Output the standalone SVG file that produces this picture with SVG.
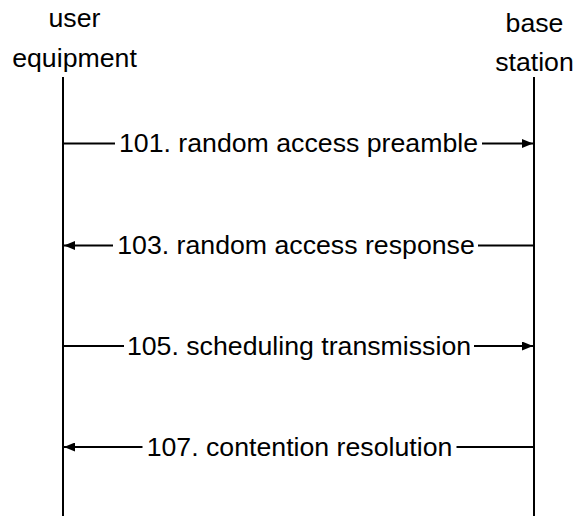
<svg xmlns="http://www.w3.org/2000/svg" width="575" height="516" viewBox="0 0 575 516">
  <style>
    .lbl { font-family: "Liberation Sans", Arial, sans-serif; font-size: 26.7px; fill: #000; text-anchor: middle; }
    .life { stroke: #000; stroke-width: 2; fill: none; }
    .msg { stroke: #000; stroke-width: 2; fill: none; }
  </style>
  <defs>
    <marker id="head" viewBox="0 0 11 9" refX="11" refY="4.5" markerWidth="11" markerHeight="9" markerUnits="userSpaceOnUse" orient="auto">
      <path d="M0,0 L11,4.5 L0,9 Z" fill="#000"/>
    </marker>
  </defs>

  <!-- participants -->
  <g id="user-equipment">
    <text class="lbl" x="74.5" y="27">user</text>
    <text class="lbl" x="74.5" y="67">equipment</text>
    <line class="life" x1="63" y1="77" x2="63" y2="516"/>
  </g>
  <g id="base-station">
    <text class="lbl" x="534.5" y="32">base</text>
    <text class="lbl" x="534.5" y="71">station</text>
    <line class="life" x1="534" y1="77" x2="534" y2="516"/>
  </g>

  <!-- messages -->
  <g id="connectors">
    <line class="msg" x1="63" y1="143.5" x2="115" y2="143.5"/>
    <line class="msg" x1="482" y1="143.5" x2="533" y2="143.5" marker-end="url(#head)"/>

    <line class="msg" x1="113" y1="245.5" x2="64" y2="245.5" marker-end="url(#head)"/>
    <line class="msg" x1="478" y1="245.5" x2="534" y2="245.5"/>

    <line class="msg" x1="63" y1="346" x2="124" y2="346"/>
    <line class="msg" x1="474" y1="346" x2="533" y2="346" marker-end="url(#head)"/>

    <line class="msg" x1="142.5" y1="447" x2="64" y2="447" marker-end="url(#head)"/>
    <line class="msg" x1="456.5" y1="447" x2="534" y2="447"/>
  </g>

  <g id="message-labels">
    <text class="lbl" x="298.5" y="152">101. random access preamble</text>
    <text class="lbl" x="296" y="254">103. random access response</text>
    <text class="lbl" x="299" y="354.5">105. scheduling transmission</text>
    <text class="lbl" x="299.5" y="455.5">107. contention resolution</text>
  </g>
</svg>
